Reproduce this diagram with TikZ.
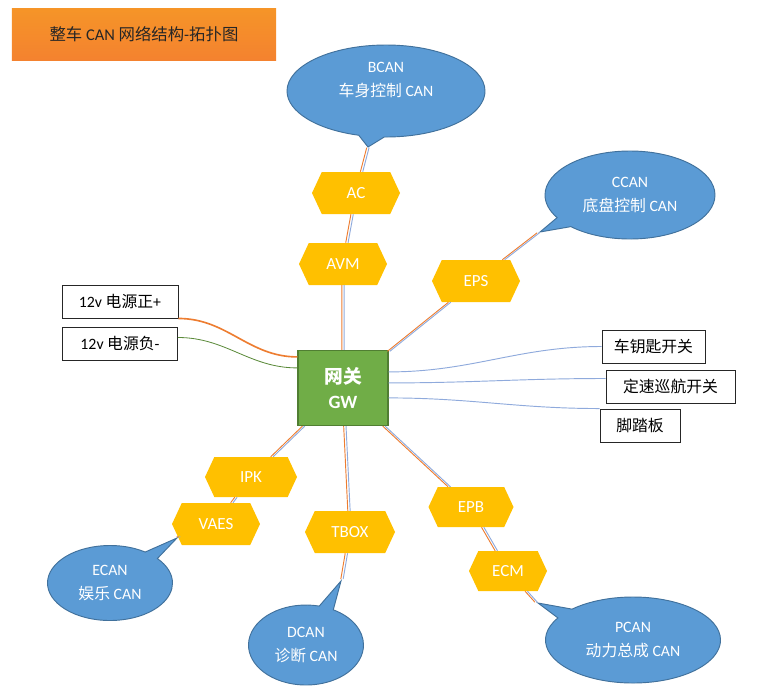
\documentclass[tikz,border=0pt]{standalone}
\usepackage{fontspec}
\setmainfont{Carlito}
\newfontfamily\cjk{Noto Sans CJK SC}
\usepackage{tikz}
\usetikzlibrary{shapes.symbols,shapes.callouts}

\definecolor{canblue}{HTML}{5B9BD5}
\definecolor{canedge}{HTML}{41719C}
\definecolor{ecuyellow}{HTML}{FFC000}
\definecolor{gwgreen}{HTML}{70AD47}
\definecolor{gwedge}{HTML}{507E32}
\definecolor{wireorange}{HTML}{ED7D31}
\definecolor{wireblue}{HTML}{8FAADC}
\definecolor{titleorange}{HTML}{F4822F}

% two-wire CAN link, orange + blue
\newcommand\canlink[2]{%
  \draw[wireo,transform canvas={xshift=-1pt}] (#1) -- (#2);
  \draw[wireb,transform canvas={xshift=1pt}] (#1) -- (#2);}

\begin{document}
\begin{tikzpicture}[x=0.03cm, y=-0.03cm, every node/.style={align=center, font=\fontsize{13.5}{16}\selectfont},
  bus/.style={ellipse callout, draw=canedge, fill=canblue, text=white, line width=0.8pt, font=\fontsize{13.5}{20}\selectfont},
  ecu/.style={signal, signal to=west and east, signal pointer angle=130, fill=ecuyellow, text=white, minimum width=2.64cm, minimum height=1.26cm, inner sep=0pt, font=\fontsize{14.5}{16}\selectfont},
  labelbox/.style={draw=black!85, fill=white, line width=0.8pt, minimum height=0.99cm},
  wireo/.style={wireorange, line width=0.8pt},
  wireb/.style={wireblue, line width=0.8pt}]

\useasboundingbox (0,0) rectangle (782,688);

% Title
\node (title) at (144,34) [top color=titleorange!85!yellow, bottom color=titleorange, minimum width=7.92cm, minimum height=1.56cm, text=black!85, font=\fontsize{14}{16}\selectfont] {{\cjk 整车} CAN {\cjk 网络结构}-{\cjk 拓扑图}};

% Gateway
\node (gw) at (343,388) [draw=gwedge, fill=gwgreen, line width=1pt, text=white, minimum width=2.7cm, minimum height=2.25cm, font=\bfseries\fontsize{16}{22}\selectfont] {{\cjk\bfseries 网关}\\GW};

% ECUs
\node (ac) at (356,193) [ecu] {AC};
\node (avm) at (343,264) [ecu] {AVM};
\node (eps) at (476,281) [ecu] {EPS};
\node (ipk) at (251,477) [ecu, minimum width=2.76cm, minimum height=1.2cm] {IPK};
\node (vaes) at (216,524) [ecu] {VAES};
\node (tbox) at (350,532) [ecu, minimum width=2.7cm] {TBOX};
\node (epb) at (471,507) [ecu, minimum width=2.55cm, minimum height=1.2cm] {EPB};
\node (ecm) at (508,571) [ecu, minimum width=2.34cm, minimum height=1.2cm] {ECM};

% CAN buses
\node (bcan) at (386,91) [bus, minimum width=5.94cm, minimum height=2.76cm, callout absolute pointer={(368,147)}] {BCAN\\{\cjk 车身控制} CAN\\\mbox{}};
\node (ccan) at (630,195) [bus, minimum width=5.1cm, minimum height=2.64cm, callout absolute pointer={(540,232)}] {CCAN\\{\cjk 底盘控制} CAN};
\node (ecan) at (110,583) [bus, minimum width=3.75cm, minimum height=2.25cm, callout absolute pointer={(177,538)}] {ECAN\\{\cjk 娱乐} CAN};
\node (dcan) at (306,645) [bus, minimum width=3.45cm, minimum height=2.4cm, callout absolute pointer={(341,581)}] {DCAN\\{\cjk 诊断} CAN};
\node (pcan) at (633,640) [bus, minimum width=5.25cm, minimum height=2.58cm, callout absolute pointer={(538,603)}] {PCAN\\{\cjk 动力总成} CAN};

% Power and switch inputs
\node (vpos) at (120,301.5) [labelbox, minimum width=3.48cm] {12v {\cjk 电源正}+};
\node (vneg) at (120,343.5) [labelbox, minimum width=3.45cm] {12v {\cjk 电源负}-};
\node (key) at (653.5,346.5) [labelbox, minimum width=3.09cm] {\cjk 车钥匙开关};
\node (cruise) at (670.5,386.5) [labelbox, minimum width=3.87cm] {\cjk 定速巡航开关};
\node (pedal) at (640,425.5) [labelbox, minimum width=2.4cm] {\cjk 脚踏板};

% Links
\canlink{gw}{avm}
\canlink{avm}{ac}
\canlink{ac}{bcan.pointer}
\canlink{gw}{eps}
\canlink{eps}{ccan.pointer}
\canlink{gw}{ipk}
\canlink{ipk}{vaes}
\canlink{vaes}{ecan.pointer}
\canlink{gw}{tbox}
\canlink{tbox}{dcan.pointer}
\canlink{gw}{epb}
\canlink{epb}{ecm}
\canlink{ecm}{pcan.pointer}

\draw[wireorange, line width=1.4pt] (vpos.south east) to[out=0, in=180] ([shift={(0,7)}]gw.north west);
\draw[gwgreen!80!black, line width=0.7pt] ([shift={(0,-6)}]vneg.east) to[out=0, in=180] ([shift={(0,18)}]gw.north west);
\draw[wireb] ([shift={(0,22)}]gw.north east) to[out=0, in=180] (key.west);
\draw[wireb] ([shift={(0,33)}]gw.north east) to[out=0, in=180] ([shift={(0,-8)}]cruise.west);
\draw[wireb] ([shift={(0,48)}]gw.north east) to[out=0, in=180] (pedal.north west);

\end{tikzpicture}
\end{document}
